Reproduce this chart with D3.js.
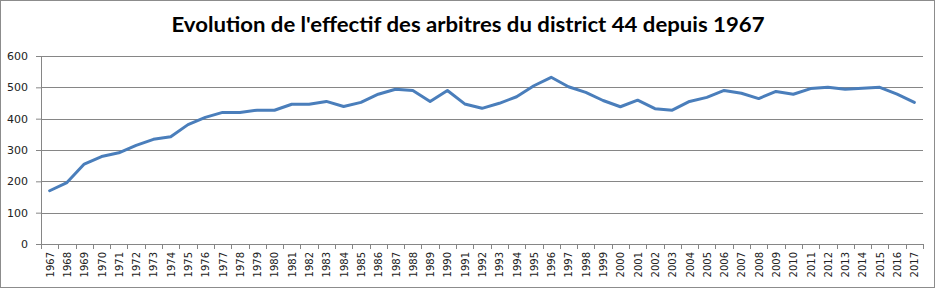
<!DOCTYPE html>
<html>
<head>
<meta charset="utf-8">
<script src="https://cdn.jsdelivr.net/npm/d3@7"></script>
<style>
  html, body { margin: 0; padding: 0; background: #fff; }
  svg { display: block; }
</style>
</head>
<body>
<div id="chart"></div>
<script>
// Effectif des arbitres, district 44
const YEARS = d3.range(1967, 2018).map(String);

const EFFECTIF = [
  170, 196, 255, 279, 291, 315, 334, 342, 381, 404,
  420, 420, 427, 427, 446, 446, 455, 439, 452, 478,
  494, 490, 455, 490, 447, 433, 449, 470, 505, 532,
  502, 484, 458, 438, 459, 432, 427, 455, 468, 490,
  481, 464, 487, 478, 496, 500, 494, 497, 500, 478,
  452
];

const Y_TICKS = [0, 100, 200, 300, 400, 500, 600];

const TITLE = "Evolution de l'effectif des arbitres du district 44 depuis 1967";

const width = 939, height = 289;
const margin = { top: 56, right: 16, bottom: 45, left: 41 };
const innerWidth = width - margin.left - margin.right;
const innerHeight = height - margin.top - margin.bottom;

const svg = d3.select("#chart")
  .append("svg")
  .attr("width", width)
  .attr("height", height);

// outer frame
svg.append("rect")
  .attr("x", 0.5).attr("y", 0.5)
  .attr("width", 934).attr("height", 287)
  .attr("fill", "#fff")
  .attr("stroke", "#8c8c8c");

svg.append("text")
  .attr("x", 468)
  .attr("y", 32)
  .attr("text-anchor", "middle")
  .attr("font-family", "Lato, 'Open Sans', sans-serif")
  .attr("font-weight", "bold")
  .attr("font-size", 20)
  .attr("textLength", 593)
  .attr("lengthAdjust", "spacingAndGlyphs")
  .attr("fill", "#000")
  .text(TITLE);

const g = svg.append("g")
  .attr("transform", `translate(${margin.left},${margin.top})`);

const x = d3.scaleBand()
  .domain(YEARS)
  .range([0, innerWidth]);

const y = d3.scaleLinear()
  .domain([0, 600])
  .range([innerHeight, 0]);

// grid
g.append("g")
  .selectAll("line")
  .data(Y_TICKS.filter(d => d > 0))
  .enter()
  .append("line")
  .attr("x1", 0)
  .attr("x2", innerWidth)
  .attr("y1", d => Math.round(y(d)) + 0.5)
  .attr("y2", d => Math.round(y(d)) + 0.5)
  .attr("stroke", "#868686");

// y axis
const yAxis = g.append("g")
  .call(d3.axisLeft(y).tickValues(Y_TICKS).tickSize(5).tickPadding(8));
yAxis.select(".domain").attr("stroke", "#868686");
yAxis.selectAll(".tick line").attr("stroke", "#868686");
yAxis.selectAll("text")
  .attr("font-family", "'DejaVu Sans', Verdana, sans-serif")
  .attr("font-size", 11)
  .attr("fill", "#222");

// x axis: ticks between categories
const xAxis = g.append("g")
  .attr("transform", `translate(0,${innerHeight})`);

xAxis.append("line")
  .attr("x1", 0).attr("x2", innerWidth)
  .attr("y1", 0.5).attr("y2", 0.5)
  .attr("stroke", "#868686");

xAxis.selectAll("line.tk")
  .data(YEARS.concat(["end"]))
  .enter()
  .append("line")
  .attr("class", "tk")
  .attr("x1", (d, i) => Math.round(i * x.step()) + 0.5)
  .attr("x2", (d, i) => Math.round(i * x.step()) + 0.5)
  .attr("y1", 0)
  .attr("y2", 5)
  .attr("stroke", "#868686");

xAxis.selectAll("text")
  .data(YEARS)
  .enter()
  .append("text")
  .attr("transform", d => `translate(${x(d) + x.bandwidth() / 2 + 4},8) rotate(-90)`)
  .attr("text-anchor", "end")
  .attr("font-family", "'DejaVu Sans', Verdana, sans-serif")
  .attr("font-size", 10)
  .attr("fill", "#222")
  .text(d => d);

// line
const line = d3.line()
  .x((d, i) => x(YEARS[i]) + x.bandwidth() / 2)
  .y(d => y(d));

g.append("path")
  .datum(EFFECTIF)
  .attr("fill", "none")
  .attr("stroke", "#4a7ebb")
  .attr("stroke-width", 3)
  .attr("stroke-linejoin", "round")
  .attr("stroke-linecap", "round")
  .attr("d", line);
</script>
</body>
</html>
